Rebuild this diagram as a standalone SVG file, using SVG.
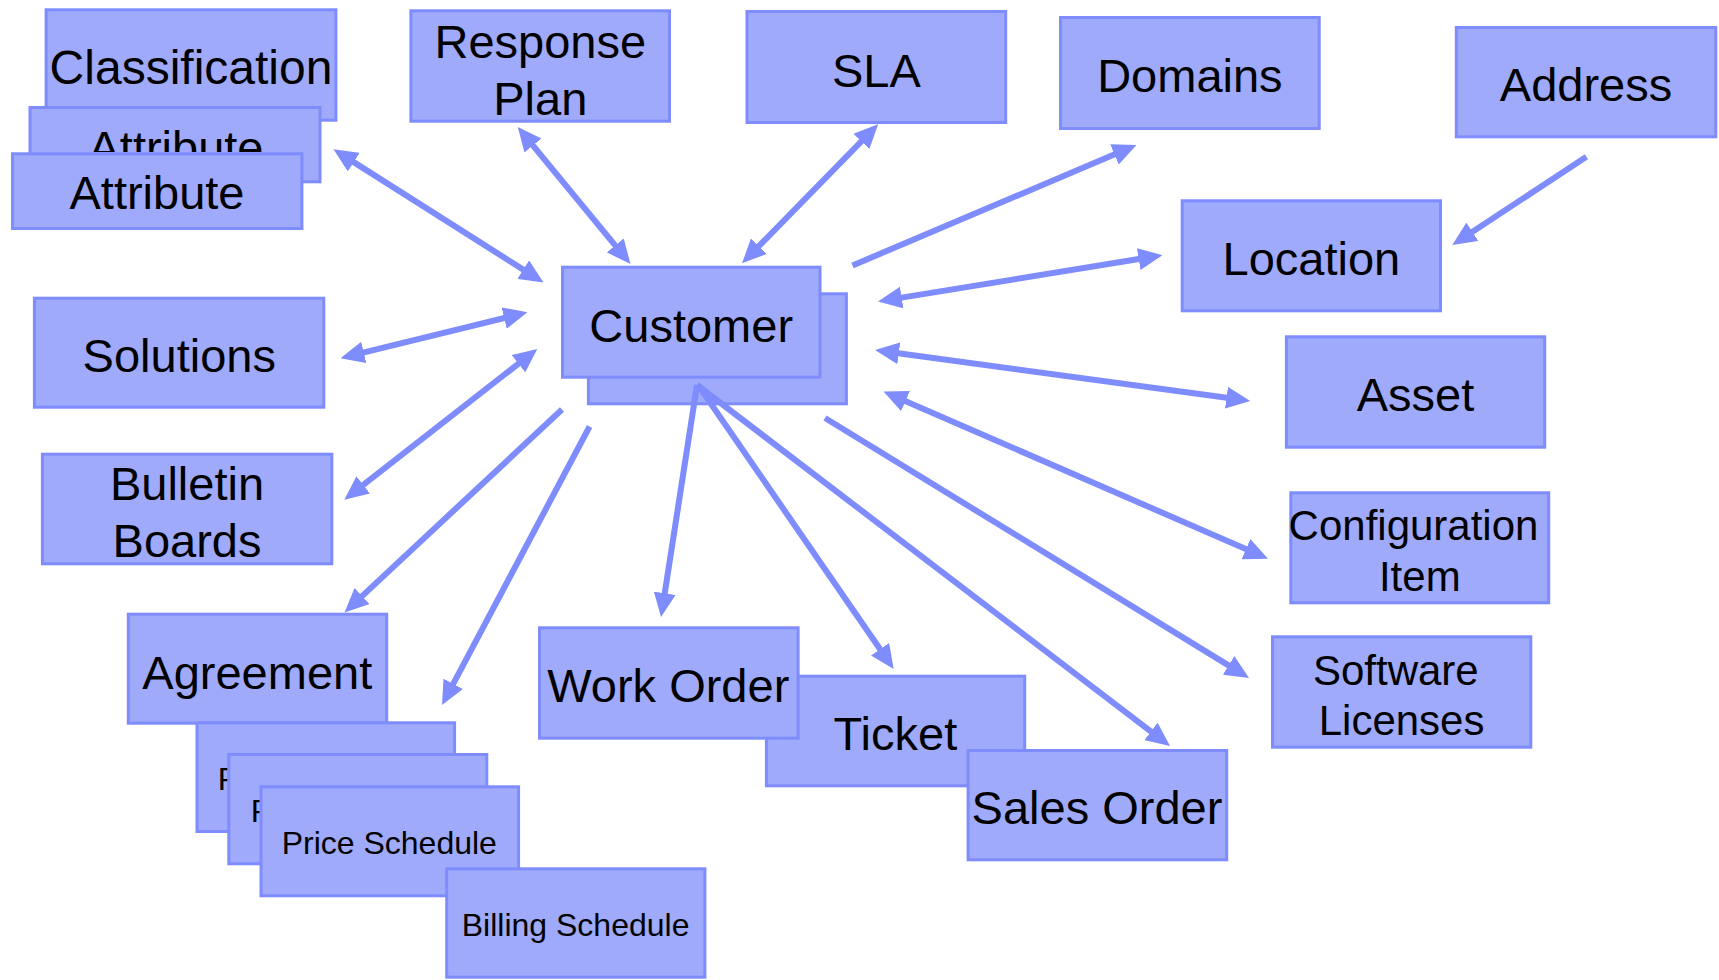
<svg xmlns="http://www.w3.org/2000/svg" width="1719" height="980" viewBox="0 0 1719 980">
<style>
.box{fill:#9faafa;stroke:#7e8cfd;stroke-width:3}
.t{font-family:"Liberation Sans",Arial,sans-serif;font-size:47px;fill:#000;text-anchor:middle}
.s{font-size:32px}
.m{font-size:42px}
.c{fill:none;stroke:#7e8cfd;stroke-width:6}
.b{marker-start:url(#ah);marker-end:url(#ah)}
.e{marker-end:url(#ah)}
</style>
<defs>
<marker id="ah" markerUnits="userSpaceOnUse" viewBox="0 0 24 22" markerWidth="24" markerHeight="22" refX="8" refY="11" orient="auto-start-reverse">
<path d="M0,0 L24,11 L0,22 z" fill="#7e8cfd"/>
</marker>
<clipPath id="attrclip"><rect x="30" y="107" width="292" height="45"/></clipPath>
</defs>
<rect width="1719" height="980" fill="#fff"/>
<g id="classification"><rect class="box" x="46.1" y="9.8" width="289.8" height="110.4"/><text class="t" x="191" y="84" style="font-size:48px">Classification</text></g>
<g id="attribute2"><rect class="box" x="30" y="107.5" width="290" height="74.3"/><text class="t" x="176" y="164" clip-path="url(#attrclip)">Attribute</text></g>
<g id="attribute1"><rect class="box" x="12.5" y="153.8" width="289.4" height="74.7"/><text class="t" x="157" y="209">Attribute</text></g>
<g id="responseplan"><rect class="box" x="410.9" y="10.8" width="258.6" height="110.4"/><text class="t" x="540.3" y="58">Response</text><text class="t" x="540.3" y="114.5">Plan</text></g>
<g id="sla"><rect class="box" x="747" y="11.5" width="258.7" height="111"/><text class="t" x="876.4" y="86.5">SLA</text></g>
<g id="domains"><rect class="box" x="1060.5" y="17.5" width="258.7" height="111"/><text class="t" x="1189.9" y="91.5">Domains</text></g>
<g id="address"><rect class="box" x="1456.3" y="27.5" width="259.5" height="109.3"/><text class="t" x="1586" y="101">Address</text></g>
<g id="location"><rect class="box" x="1182.2" y="200.8" width="258.3" height="110"/><text class="t" x="1311.4" y="275">Location</text></g>
<g id="customer"><rect class="box" x="588.4" y="293.8" width="258" height="110"/><rect class="box" x="562.5" y="267.2" width="257.5" height="110"/><text class="t" x="691.2" y="342">Customer</text></g>
<g id="solutions"><rect class="box" x="34.4" y="298.2" width="289.4" height="109"/><text class="t" x="179.3" y="372">Solutions</text></g>
<g id="bulletinboards"><rect class="box" x="42.4" y="454.2" width="289.4" height="109.6"/><text class="t" x="187" y="500">Bulletin</text><text class="t" x="187" y="557">Boards</text></g>
<g id="agreement"><rect class="box" x="128.3" y="614.2" width="258.4" height="109"/><text class="t" x="257.3" y="688.5">Agreement</text></g>
<g id="priceschedule1"><rect class="box" x="197" y="722.8" width="257.6" height="108.7"/><text class="t s" x="325.3" y="789.5">Price Schedule</text></g>
<g id="priceschedule2"><rect class="box" x="228.8" y="754.5" width="258" height="109.3"/><text class="t s" x="358.3" y="821.5">Price Schedule</text></g>
<g id="priceschedule3"><rect class="box" x="261" y="786.8" width="257.6" height="109"/><text class="t s" x="389.3" y="854">Price Schedule</text></g>
<g id="billingschedule"><rect class="box" x="446.7" y="868.8" width="258.2" height="108.4"/><text class="t s" x="575.6" y="936">Billing Schedule</text></g>
<g id="ticket"><rect class="box" x="766.4" y="676.2" width="258.3" height="109.6"/><text class="t" x="895.4" y="750">Ticket</text></g>
<g id="workorder"><rect class="box" x="539.5" y="627.8" width="258.6" height="110.4"/><text class="t" x="668.3" y="702">Work Order</text></g>
<g id="salesorder"><rect class="box" x="968.1" y="750.5" width="258.6" height="109.3"/><text class="t" x="1097" y="823.5">Sales Order</text></g>
<g id="asset"><rect class="box" x="1286.4" y="336.8" width="258.3" height="110.4"/><text class="t" x="1415.5" y="411">Asset</text></g>
<g id="configurationitem"><rect class="box" x="1290.8" y="492.8" width="257.9" height="110"/><text class="t m" x="1413.5" y="539.5">Configuration</text><text class="t m" x="1419.8" y="591.3">Item</text></g>
<g id="softwarelicenses"><rect class="box" x="1272.5" y="636.8" width="258.3" height="110.4"/><text class="t m" x="1395.8" y="684.5">Software</text><text class="t m" x="1401.6" y="734.5">Licenses</text></g>
<g id="connectors">
<line class="c b" x1="347" y1="157.9" x2="530" y2="273.9"/>
<line class="c b" x1="527.9" y1="139.3" x2="620.3" y2="251.6"/>
<line class="c b" x1="867" y1="135.7" x2="753.2" y2="251.9"/>
<line class="c e" x1="852.5" y1="265.5" x2="1121.8" y2="151.25"/>
<line class="c b" x1="893.8" y1="298.9" x2="1146.6" y2="257.8"/>
<line class="c e" x1="1586.4" y1="156.7" x2="1465.7" y2="236.2"/>
<line class="c b" x1="890.9" y1="352.2" x2="1234.4" y2="398.8"/>
<line class="c b" x1="898.2" y1="397.9" x2="1253.3" y2="552.3"/>
<line class="c e" x1="825" y1="418" x2="1235.4" y2="669.6"/>
<line class="c e" x1="697" y1="385" x2="1157.3" y2="736.3"/>
<line class="c e" x1="698" y1="385" x2="884.6" y2="655.8"/>
<line class="c e" x1="697" y1="385" x2="663.5" y2="601.2"/>
<line class="c e" x1="589.6" y1="426.5" x2="449.5" y2="690.9"/>
<line class="c e" x1="562" y1="409.5" x2="356.2" y2="601.6"/>
<line class="c b" x1="356.9" y1="489.8" x2="524.7" y2="358.8"/>
<line class="c b" x1="356" y1="354.4" x2="511.9" y2="316.1"/>
</g>
</svg>
